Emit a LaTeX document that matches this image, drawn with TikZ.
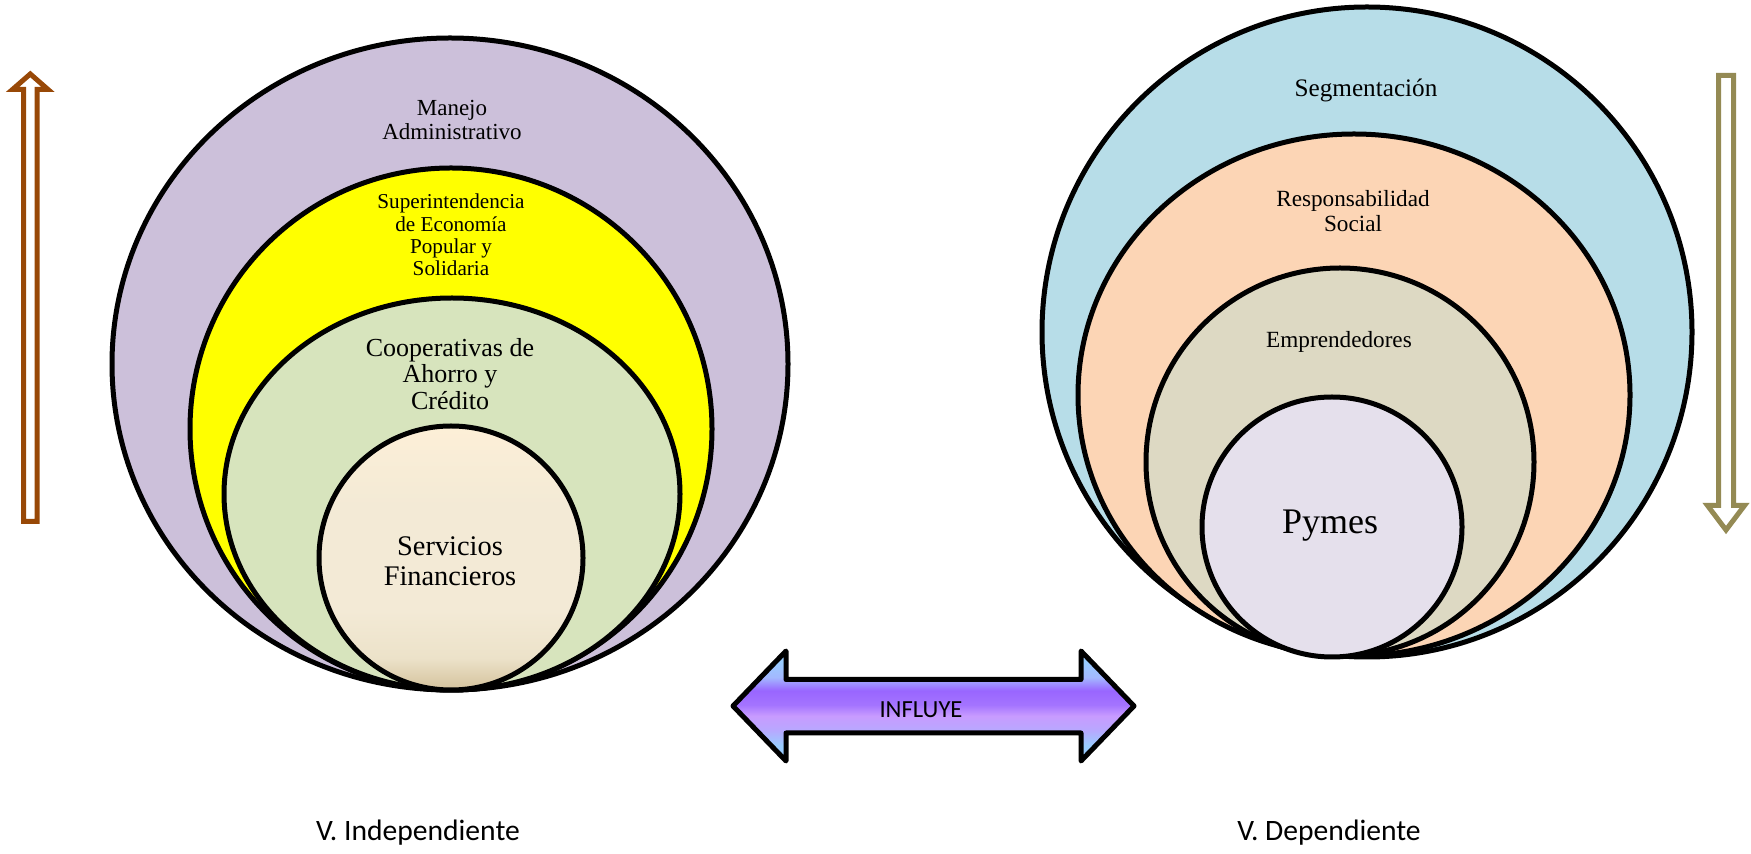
\documentclass[tikz,border=0pt]{standalone}
\usepackage{fontspec}
\setmainfont{Liberation Serif}
\newfontfamily\labelsans{Carlito}

% fills of the rings
\definecolor{lavender}{HTML}{CCC0DA}
\definecolor{ryellow}{HTML}{FFFF00}
\definecolor{sage}{HTML}{D7E4BD}
\definecolor{aqua}{HTML}{B7DDE8}
\definecolor{peach}{HTML}{FCD5B5}
\definecolor{tan}{HTML}{DDD9C3}
\definecolor{lilac}{HTML}{E5E0EC}
% cream gradient of the innermost left ring
\definecolor{creamA}{HTML}{FDEFD7}
\definecolor{creamB}{HTML}{F3EAD6}
\definecolor{creamC}{HTML}{ECE2C9}
\definecolor{creamD}{HTML}{D4C29C}
% gradient of the double arrow
\definecolor{arBlue}{HTML}{99CCFF}
\definecolor{arBlueB}{HTML}{A3B8FF}
\definecolor{arViolet}{HTML}{9966FF}
\definecolor{arVioletB}{HTML}{A474FF}
\definecolor{arPink}{HTML}{C89BFF}
\definecolor{arLav}{HTML}{B8A8FF}
% side arrows
\definecolor{rust}{HTML}{984807}
\definecolor{olive}{HTML}{948A54}

\pgfdeclareverticalshading{creamshade}{100bp}{%
  color(0bp)=(creamD); color(25bp)=(creamD); color(31bp)=(creamC);
  color(40bp)=(creamB); color(60bp)=(creamB); color(75bp)=(creamA); color(100bp)=(creamA)}
\pgfdeclareverticalshading{influyeshade}{100bp}{%
  color(0bp)=(arBlue); color(25bp)=(arBlue); color(32bp)=(arBlue); color(39bp)=(arLav);
  color(45.5bp)=(arPink); color(50.5bp)=(arVioletB); color(57bp)=(arViolet);
  color(63bp)=(arBlueB); color(70bp)=(arBlue); color(75bp)=(arBlue); color(100bp)=(arBlue)}

\begin{document}
\begin{tikzpicture}[x=0.5pt,y=-0.5pt,
  ring/.style={draw=black,line width=2.5pt},
  lbl/.style={align=center,inner sep=0pt,text=black},
  hollowarrow/.style={line width=2.5pt,fill=white,line join=miter}]
\useasboundingbox (0,0) rectangle (1751,854);
\fill[white] (0,0) rectangle (1751,854);

% ---- independent variable: nested rings ----
\draw[ring,fill=lavender] (450,364) ellipse [x radius=338, y radius=326];
\draw[ring,fill=ryellow] (451,429) circle [radius=261];
\draw[ring,fill=sage] (452,494) ellipse [x radius=228, y radius=196];
\shadedraw[ring,shading=creamshade] (451,558) circle [radius=132];

\node[lbl,font=\fontsize{11.5}{12}\selectfont] (manejo) at (452,120)
  {Manejo\\Administrativo};
\node[lbl,font=\fontsize{10.6}{11.1}\selectfont] (seps) at (451,235)
  {Superintendencia\\de Economía\\Popular y\\Solidaria};
\node[lbl,font=\fontsize{13}{13.4}\selectfont] (coop) at (450,374)
  {Cooperativas de\\Ahorro y\\Crédito};
\node[lbl,font=\fontsize{14.2}{15.2}\selectfont] (serv) at (450,561)
  {Servicios\\Financieros};

% ---- dependent variable: nested rings ----
\draw[ring,fill=aqua] (1367,332) circle [radius=325];
\draw[ring,fill=peach] (1354,395) ellipse [x radius=276, y radius=261];
\draw[ring,fill=tan] (1340,462) circle [radius=194];
\draw[ring,fill=lilac] (1332,527) circle [radius=130];

\node[lbl,font=\fontsize{12.6}{13}\selectfont] (segm) at (1366,90) {Segmentación};
\node[lbl,font=\fontsize{11.6}{12.5}\selectfont] (resp) at (1353,211)
  {Responsabilidad\\Social};
\node[lbl,font=\fontsize{11.6}{12.5}\selectfont] (empr) at (1339,342) {Emprendedores};
\node[lbl,font=\fontsize{18}{20}\selectfont] (pymes) at (1330,526) {Pymes};

% ---- double arrow between both sets ----
\shadedraw[shading=influyeshade,draw=black,line width=2.5pt,line join=round]
  (733,706) -- (786,651) -- (786,679.5) -- (1081,679.5) -- (1081,651)
  -- (1134,706) -- (1081,761) -- (1081,733) -- (786,733) -- (786,761) -- cycle;
\node[lbl,font=\labelsans\fontsize{12.3}{14}\selectfont] (influye) at (921,710) {INFLUYE};

% ---- side arrows ----
\draw[hollowarrow,draw=rust]
  (23.5,521.5) -- (23.5,89.5) -- (12.5,89.5) -- (30.3,74) -- (48,89.5)
  -- (37,89.5) -- (37,521.5) -- cycle;
\draw[hollowarrow,draw=olive]
  (1718.5,75.5) -- (1733.5,75.5) -- (1733.5,505.5) -- (1744.5,505.5)
  -- (1726,530) -- (1707.5,505.5) -- (1718.5,505.5) -- cycle;

% ---- captions ----
\node[lbl,font=\labelsans\fontsize{14.8}{16}\selectfont] (vind) at (418,833) {V. Independiente};
\node[lbl,font=\labelsans\fontsize{14.8}{16}\selectfont] (vdep) at (1329,833) {V. Dependiente};
\end{tikzpicture}
\end{document}
